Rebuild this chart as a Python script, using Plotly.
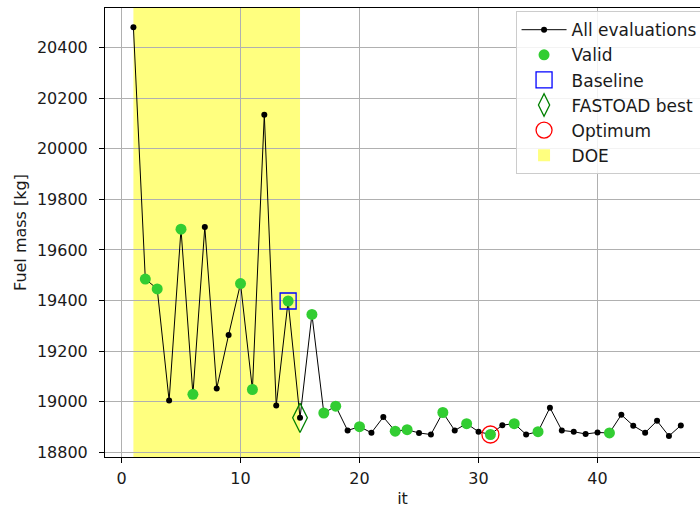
import plotly.graph_objects as go

iterations = list(range(1, 48))
fuel_mass = [20481, 19485, 19446, 19004, 19682, 19029, 19691, 19052, 19264, 19467,
             19048, 20135, 18985, 19398, 18936, 19345, 18955, 18982, 18886, 18901,
             18877, 18939, 18883, 18889, 18876, 18870, 18957, 18886, 18913, 18881,
             18870, 18907, 18913, 18870, 18881, 18976, 18886, 18881, 18872, 18878,
             18876, 18948, 18905, 18877, 18924, 18864, 18906]
valid_its = [2, 3, 5, 6, 10, 11, 14, 16, 17, 18, 20, 23, 24, 27, 29, 31, 33, 35, 41]
baseline_it = 14
fastoad_best_it = 15
optimum_it = 31
doe_start, doe_end = 1, 15
x_ticks = [0, 10, 20, 30, 40]
y_ticks = [18800, 19000, 19200, 19400, 19600, 19800, 20000, 20200, 20400]

val = dict(zip(iterations, fuel_mass))
FONT = "DejaVu Sans"
TXT = "#1a1a1a"

fig = go.Figure()
fig.add_trace(go.Scatter(x=iterations, y=fuel_mass, mode="lines+markers", name="All evaluations",
                         line=dict(color="black", width=1), marker=dict(color="black", size=6)))
fig.add_trace(go.Scatter(x=valid_its, y=[val[i] for i in valid_its], mode="markers", name="Valid",
                         marker=dict(color="#32cd32", size=11)))
fig.add_trace(go.Scatter(x=[baseline_it], y=[val[baseline_it]], mode="markers", name="Baseline",
                         marker=dict(symbol="square-open", color="blue", size=16, line=dict(width=1.3))))
fig.add_trace(go.Scatter(x=[fastoad_best_it], y=[val[fastoad_best_it]], mode="markers", name="FASTOAD best",
                         marker=dict(symbol="diamond-tall-open", color="green", size=21, line=dict(width=1.3))))
fig.add_trace(go.Scatter(x=[optimum_it], y=[val[optimum_it]], mode="markers", name="Optimum",
                         marker=dict(symbol="circle-open", color="red", size=17, line=dict(width=1.3))))

fig.add_shape(type="rect", xref="x", yref="paper", x0=doe_start, x1=doe_end, y0=0, y1=1,
              fillcolor="rgba(255,255,0,0.5)", line=dict(width=0), layer="below",
              showlegend=True, name="DOE")

axis_common = dict(showgrid=True, gridcolor="#b0b0b0", gridwidth=1, zeroline=False,
                   showline=True, linecolor="black", linewidth=1, ticks="outside", ticklen=5,
                   tickcolor="black", tickformat="d",
                   tickfont=dict(family=FONT, size=16, color=TXT))
fig.update_xaxes(range=[-1.387, 48.61], tickvals=x_ticks, mirror=True, ticklabelstandoff=2,
                 title=dict(text="it", font=dict(family=FONT, size=16, color=TXT), standoff=6),
                 **axis_common)
fig.update_yaxes(range=[18781, 20557], tickvals=y_ticks, mirror=False, ticklabelstandoff=8,
                 title=dict(text="Fuel mass [kg]", font=dict(family=FONT, size=16, color=TXT), standoff=6),
                 **axis_common)

fig.update_layout(width=700, height=508, margin=dict(l=105, r=0, t=8, b=51, autoexpand=False),
                  plot_bgcolor="white", paper_bgcolor="white",
                  font=dict(family=FONT, size=16, color=TXT),
                  legend=dict(x=0.69, y=0.993, xanchor="left", yanchor="top", itemwidth=45,
                              bgcolor="rgba(255,255,255,0.85)", bordercolor="#cccccc", borderwidth=1,
                              font=dict(family=FONT, size=17, color=TXT), tracegroupgap=0))
fig.write_html("out.html", config={"displayModeBar": False},
               post_script="document.body.style.margin='0';document.body.style.overflow='hidden';")
